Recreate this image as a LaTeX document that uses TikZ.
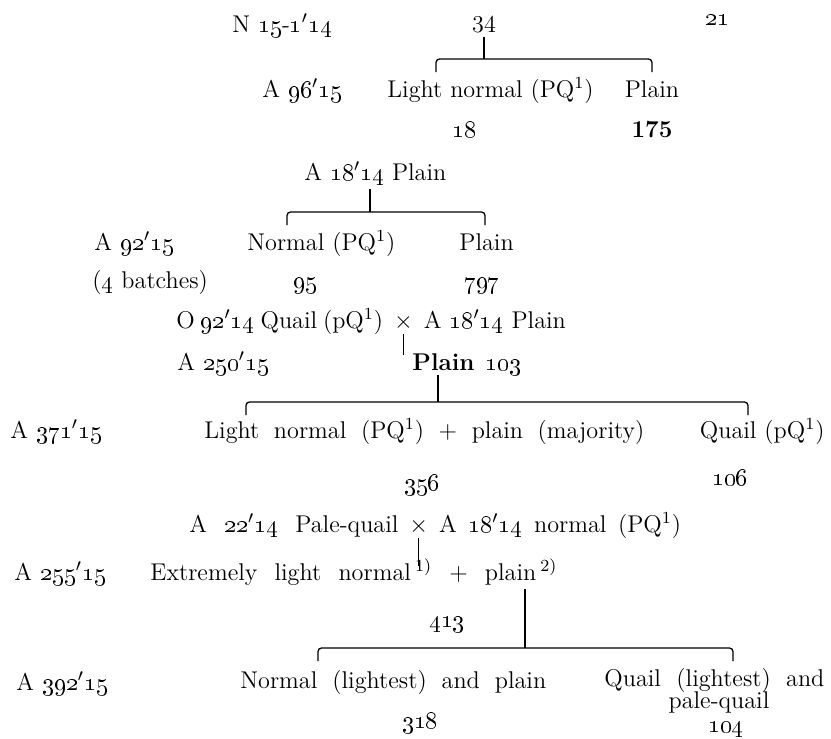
\documentclass[tikz,border=0pt]{standalone}
\usetikzlibrary{positioning}

\newcommand\osn[1]{\oldstylenums{#1}}
\newcommand\pri{$'$}
\newcommand\wide[2]{\makebox[#1][s]{#2}}

\tikzset{
  row/.style={anchor=base west, inner sep=0pt, outer sep=2pt,
    font=\fontsize{11}{13.5}\selectfont},
  num/.style={row, anchor=base},
  stem/.style={line width=0.6pt},
  fork/.style={line width=0.6pt, rounded corners=1.6pt}
}

\begin{document}
\begin{tikzpicture}[x=0.4545pt, y=-0.4545pt, node distance=1pt]
\useasboundingbox (0,0) rectangle (831,738);

% N 15-1'14
\node[row] (n15) at (228,32) {N \osn{15}-\osn{1}\pri\osn{14}};
\node[num] (n34) at (484,32) {34};
\node[num] (n21) at (717,25) {\osn{21}};

\node[row] (a96) at (258,97) {A \osn{96}\pri\osn{15}};
\node[row] (light) at (383,97) {Light normal (PQ\textsuperscript{1})};
\node[num] (plaina) at (652,97) {Plain};
\node[num] (c18) at (464,137) {\osn{18}};
\node[num] (c175) at (652,137) {\textbf{175}};

\coordinate (f1l) at (436,59);
\coordinate (f1r) at (652,59);
\draw[stem] (n34) -- (n34 |- f1l);
\draw[fork] (f1l) ++(0,13) -- (f1l) -- (f1r) -- ++(0,13);

% A 18'14 plain
\node[row] (a18) at (300,180) {A \osn{18}\pri\osn{14} Plain};
\node[row] (a92) at (90,250) {A \osn{92}\pri\osn{15}};
\node[row] (normb) at (243,250) {Normal (PQ\textsuperscript{1})};
\node[row] (plainb) at (455,250) {Plain};
\node[row] (batch) at (88,288) {(\osn{4} batches)};
\node[num] (c95) at (305,288) {\osn{95}};
\node[num] (c797) at (482,288) {\osn{797}};

\coordinate (f2l) at (287,212);
\coordinate (f2) at (370,212);
\coordinate (f2r) at (485,212);
\draw[stem] (f2 |- a18.south) -- (f2);
\draw[fork] (f2l) ++(0,13) -- (f2l) -- (f2r) -- ++(0,13);

% O 92'14 x A 18'14
\node[row] (o92) at (172,328) {\wide{94pt}{O \osn{92}\pri\osn{14} Quail (pQ\textsuperscript{1})}};
\node[row, right=of o92.base east, anchor=base west] (x2) {$\times$};
\node[row, right=of x2.base east, anchor=base west] (a18b) {A \osn{18}\pri\osn{14} Plain};
\coordinate (t2) at (0,355);
\draw[stem] (x2.south) -- (x2.south |- t2);

\node[row] (a250) at (173,370) {A \osn{250}\pri\osn{15}};
\node[row] (plainc) at (408,370) {\textbf{Plain}};
\node[row, right=of plainc.base east, anchor=base west] (c103) {\osn{103}};

\coordinate (f3l) at (246,402);
\coordinate (f3) at (438,402);
\coordinate (f3r) at (748,402);
\draw[stem] (f3 |- plainc.south) -- (f3);
\draw[fork] (f3l) ++(0,13) -- (f3l) -- (f3r) -- ++(0,13);

\node[row] (a371) at (6,438) {A \osn{371}\pri\osn{15}};
\node[row] (mixc) at (200,438) {\wide{200pt}{Light normal (PQ\textsuperscript{1}) + plain (majority)}};
\node[row, anchor=base east] (quailc) at (829,438) {Quail (pQ\textsuperscript{1})};
\node[num] (c356) at (422,490) {\osn{356}};
\node[num] (c106) at (730,485) {\osn{106}};

% A 22'14 x A 18'14
\node[row] (a22) at (185,532) {\wide{95pt}{A \osn{22}\pri\osn{14} Pale-quail}};
\node[row, right=of a22.base east, anchor=base west] (x3) {$\times$};
\node[row, right=of x3.base east, anchor=base west] (a18c) {\wide{110pt}{A \osn{18}\pri\osn{14} normal (PQ\textsuperscript{1})}};
\coordinate (t5) at (0,566);
\draw[stem] (x3.south) -- (x3.south |- t5);

\node[row] (a255) at (10,580) {A \osn{255}\pri\osn{15}};
\node[row] (extr) at (146,580) {\wide{185pt}{Extremely light normal\,\textsuperscript{1)} + plain\,\textsuperscript{2)}}};
\node[num] (c413) at (447,627) {\osn{413}};

\coordinate (f4l) at (318,648);
\coordinate (f4) at (525,648);
\coordinate (f4r) at (733,648);
\draw[stem] (f4 |- extr.south) -- (f4);
\draw[fork] (f4l) ++(0,13) -- (f4l) -- (f4r) -- ++(0,13);

\node[row] (a392) at (12,690) {A \osn{392}\pri\osn{15}};
\node[row] (normd) at (236,688) {\wide{139pt}{Normal (lightest) and plain}};
\node[row] (quaild) at (600,686) {\wide{100pt}{Quail (lightest) and}};
\node[num] (paleq) at (719,708) {pale-quail};
\node[num] (c318) at (420,728) {\osn{318}};
\node[num] (c104) at (726,732) {\osn{104}};

\end{tikzpicture}
\end{document}
